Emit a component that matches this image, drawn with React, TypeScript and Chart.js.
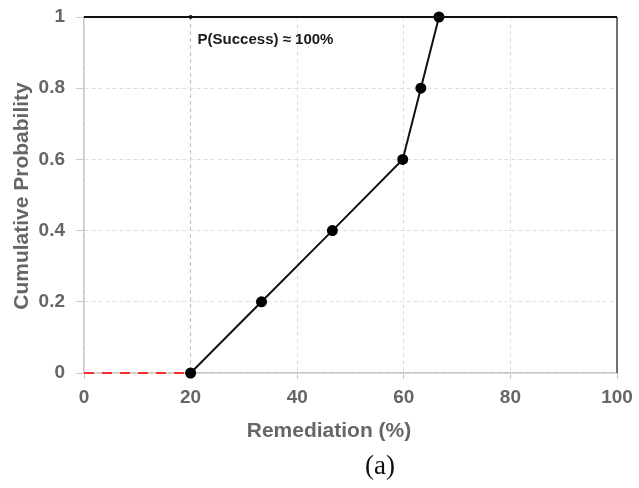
import React, { useEffect, useRef } from "react";
import { Chart, registerables } from "chart.js";

Chart.register(...registerables);

const remediation = [20, 33.3, 46.6, 59.8, 63.2, 66.6];
const cumulativeProb = [0, 0.2, 0.4, 0.6, 0.8, 1];
const baselineX = [0, 20];
const baselineY = [0, 0];
const topX = [0, 20, 100];
const topY = [1, 1, 1];
const rightX = [100, 100];
const rightY = [0, 1];
const xTicks = [0, 20, 40, 60, 80, 100];
const yTicks = [0, 0.2, 0.4, 0.6, 0.8, 1];
const annotationText = "P(Success) \u2248 100%";
const xTitle = "Remediation (%)";
const yTitle = "Cumulative Probability";
const captionText = "(a)";

const SANS = "'Liberation Sans', Arial, sans-serif";
const toPts = (xs: number[], ys: number[]) => xs.map((x, i) => ({ x, y: ys[i] }));

export default function App() {
  const ref = useRef<HTMLCanvasElement | null>(null);
  useEffect(() => {
    document.body.style.margin = "0";
    const canvas = ref.current!;
    const textPlugin = {
      id: "texts",
      afterDraw(chart: any) {
        const ctx = chart.ctx;
        const xs = chart.scales.x;
        const ys = chart.scales.y;
        ctx.save();
        ctx.fillStyle = "#1a1a1a";
        ctx.font = `bold 15px ${SANS}`;
        ctx.textAlign = "left";
        ctx.textBaseline = "middle";
        ctx.fillText(annotationText, xs.getPixelForValue(20) + 7, ys.getPixelForValue(0.935));
        ctx.fillStyle = "#666";
        ctx.font = `bold 21px ${SANS}`;
        ctx.textAlign = "center";
        ctx.fillText(xTitle, 329, 431);
        ctx.save();
        ctx.translate(22, 196);
        ctx.rotate(-Math.PI / 2);
        ctx.fillText(yTitle, 0, 0);
        ctx.restore();
        ctx.fillStyle = "#111";
        ctx.font = "27px 'Liberation Serif', 'Times New Roman', serif";
        ctx.fillText(captionText, 380, 467);
        ctx.restore();
      },
    };
    const chart = new Chart(canvas, {
      type: "scatter",
      data: {
        datasets: [
          {
            data: toPts(baselineX, baselineY),
            showLine: true,
            borderColor: "#ff2a2a",
            borderWidth: 2,
            borderDash: [10, 8],
            pointRadius: 0,
            clip: false,
          },
          {
            data: toPts(topX, topY),
            showLine: true,
            borderColor: "#111",
            borderWidth: 2,
            pointRadius: [0, 2, 0],
            pointBackgroundColor: "#111",
            pointBorderWidth: 0,
            clip: false,
          },
          {
            data: toPts(rightX, rightY),
            showLine: true,
            borderColor: "#444",
            borderWidth: 1.5,
            pointRadius: 0,
            clip: false,
          },
          {
            data: toPts(remediation, cumulativeProb),
            showLine: true,
            borderColor: "#111",
            borderWidth: 2,
            pointRadius: 4.5,
            pointBackgroundColor: "#000",
            pointBorderColor: "#000",
            clip: false,
          },
        ],
      },
      options: {
        animation: false,
        responsive: false,
        layout: { padding: { left: 0, top: 17, right: 22, bottom: 0 } },
        plugins: { legend: { display: false }, tooltip: { enabled: false } },
        scales: {
          x: {
            type: "linear",
            min: 0,
            max: 100,
            afterBuildTicks: (s: any) => {
              s.ticks = xTicks.map((v) => ({ value: v }));
            },
            afterFit: (s: any) => {
              s.height = 115;
              s.paddingLeft = 0;
              s.paddingRight = 0;
            },
            ticks: {
              color: "#666",
              font: { family: SANS, size: 19, weight: "bold" },
              padding: 7,
            },
            grid: {
              color: (c: any) => (c.tick && c.tick.value === 20 ? "#bdbdbd" : "#dedede"),
              tickColor: "#c8c8c8",
              tickLength: 6,
            },
            border: { color: "#c8c8c8", width: 1.5, dash: [4, 3] },
          },
          y: {
            type: "linear",
            min: 0,
            max: 1,
            afterBuildTicks: (s: any) => {
              s.ticks = yTicks.map((v) => ({ value: v }));
            },
            afterFit: (s: any) => {
              s.width = 84;
              s.paddingTop = 0;
              s.paddingBottom = 0;
            },
            ticks: {
              color: "#666",
              font: { family: SANS, size: 19, weight: "bold" },
              padding: 11,
              callback: (v: any) => String(v),
            },
            grid: {
              color: "#dedede",
              tickColor: "#c8c8c8",
              tickLength: 8,
            },
            border: { color: "#c8c8c8", width: 1.5, dash: [4, 3] },
          },
        },
      } as any,
      plugins: [textPlugin],
    });
    return () => chart.destroy();
  }, []);
  return <canvas ref={ref} width={639} height={488} style={{ display: "block" }} />;
}
